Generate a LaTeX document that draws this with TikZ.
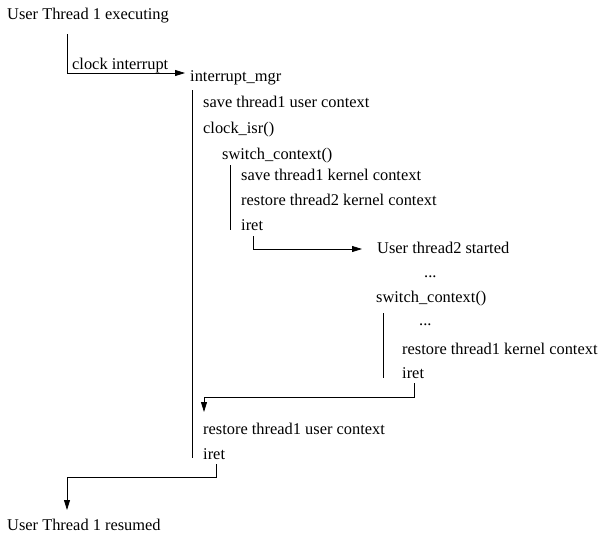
\documentclass[tikz,border=0pt]{standalone}
\usepackage{fontspec}
\setmainfont{Liberation Serif}
\usetikzlibrary{arrows.meta}
\begin{document}
\begin{tikzpicture}[x=1pt,y=-1pt,
  txt/.style={anchor=base west,inner sep=0pt,font=\fontsize{16.4}{19}\selectfont},
  ln/.style={line width=0.8pt},
  arr/.style={line width=0.8pt,-{Triangle[length=10pt,width=6pt]}}]
\useasboundingbox (0,0) rectangle (599,533);
% texts
\node[txt] (ut1) at (7,19) {User Thread 1 executing};
\node[txt] (ci) at (72,69) {clock interrupt};
\node[txt] (im) at (190,81) {interrupt\_mgr};
\node[txt] (s1u) at (203,107) {save thread1 user context};
\node[txt] (cisr) at (203,133) {clock\_isr()};
\node[txt] (sc1) at (222,159) {switch\_context()};
\node[txt] (s1k) at (241,180) {save thread1 kernel context};
\node[txt] (r2k) at (241,205) {restore thread2 kernel context};
\node[txt] (iret1) at (241,230) {iret};
\node[txt] (ut2) at (377,253) {User thread2 started};
\node[txt] (dots1) at (424,277) {...};
\node[txt] (sc2) at (376,302) {switch\_context()};
\node[txt] (dots2) at (419,325) {...};
\node[txt] (r1k) at (402,354) {restore thread1 kernel context};
\node[txt] (iret2) at (402,378) {iret};
\node[txt] (r1u) at (203,434) {restore thread1 user context};
\node[txt] (iret3) at (203,459) {iret};
\node[txt] (res) at (7,530) {User Thread 1 resumed};
% coordinates
\coordinate (a0) at (67,34);
\coordinate (a1) at (67,73);
\coordinate (a2) at (185,73);
\coordinate (v1a) at (192,90);
\coordinate (v1b) at (192,458);
\coordinate (v2a) at (230,165);
\coordinate (v2b) at (230,230);
\coordinate (b0) at (253,236);
\coordinate (b1) at (253,249);
\coordinate (b2) at (362,249);
\coordinate (v3a) at (383,313);
\coordinate (v3b) at (383,378);
\coordinate (c0) at (414,383);
\coordinate (c1) at (414,397);
\coordinate (c2) at (204,397);
\coordinate (c3) at (204,412);
\coordinate (d0) at (216,464);
\coordinate (d1) at (216,477);
\coordinate (d2) at (67,477);
\coordinate (d3) at (67,510);
% connectors
\draw[arr] (a0) -- (a1) -- (a2);
\draw[ln] (v1a) -- (v1b);
\draw[ln] (v2a) -- (v2b);
\draw[arr] (b0) -- (b1) -- (b2);
\draw[ln] (v3a) -- (v3b);
\draw[arr] (c0) -- (c1) -- (c2) -- (c3);
\draw[arr] (d0) -- (d1) -- (d2) -- (d3);
\end{tikzpicture}
\end{document}
